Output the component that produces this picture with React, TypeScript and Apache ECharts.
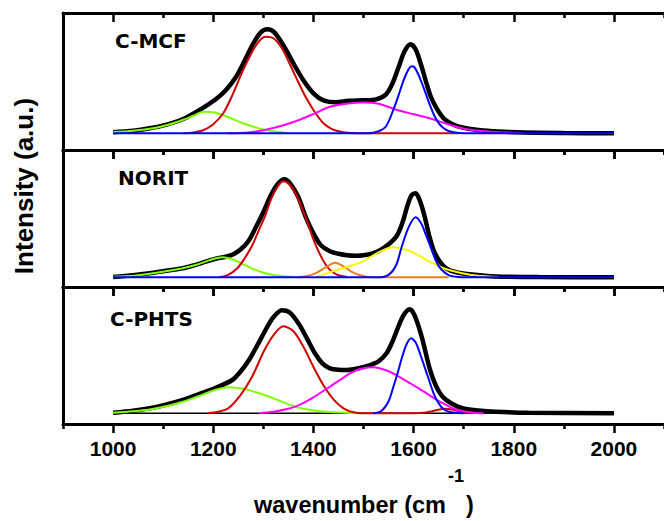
import React, { useEffect, useRef } from 'react';
import * as echarts from 'echarts';

const FONT = '"Liberation Sans", Arial, Helvetica, sans-serif';
const LABEL_FONT = '"DejaVu Sans", "Liberation Sans", Arial, sans-serif';

const majorTicks = [1000, 1200, 1400, 1600, 1800, 2000];
const panelNames = ['C-MCF', 'NORIT', 'C-PHTS'];
const xTitle = 'wavenumber (cm';
const xTitleSup = '-1';
const xTitleEnd = ')';
const yTitle = 'Intensity (a.u.)';

// ---- C-MCF (top panel) ----
const cmcfSpectrum: [number, number][] = [
  [1000, 1], [1040, 2.5], [1073, 5], [1105, 8.5], [1139, 14], [1172, 23], [1205, 34], [1225, 43],
  [1245, 56], [1262, 72], [1280, 90], [1295, 101], [1308, 104], [1322, 101], [1340, 88], [1360, 70],
  [1380, 53], [1400, 40], [1420, 33], [1445, 31], [1470, 32.5], [1500, 33], [1525, 34], [1545, 39],
  [1558, 50], [1570, 66], [1582, 82], [1594, 89], [1604, 84], [1614, 70], [1624, 53], [1634, 37],
  [1646, 25], [1660, 15], [1680, 8.5], [1700, 5.5], [1730, 3.3], [1770, 1.8], [1820, 0.8], [1900, 0.3], [2000, 0],
];
const cmcfGreen: [number, number][] = [
  [1000, 1.2], [1040, 2.6], [1080, 5], [1110, 8.5], [1140, 13.5], [1160, 17.5], [1180, 21.5], [1200, 21],
  [1220, 18], [1240, 14], [1260, 10], [1280, 6.5], [1300, 3.8], [1320, 2], [1340, 0.8], [1350, 0.4],
];
const cmcfRed: [number, number][] = [
  [1140, 0], [1160, 0.8], [1180, 3], [1200, 9], [1220, 20], [1238, 38], [1255, 58], [1271, 75], [1288, 90],
  [1304, 96.6], [1320, 95], [1337, 85], [1354, 68], [1370, 51], [1386, 35], [1403, 21], [1420, 10],
  [1436, 4.5], [1455, 1.5], [1475, 0.3], [1500, 0], [1690, 0],
];
const cmcfMagenta: [number, number][] = [
  [1230, 0], [1270, 0.8], [1300, 3], [1337, 7.5], [1370, 13], [1403, 20], [1433, 26.5], [1465, 29.5],
  [1500, 30.7], [1530, 29.5], [1566, 23.5], [1600, 19], [1632, 15], [1660, 10.5], [1697, 5], [1730, 2.5],
  [1764, 1.3], [1816, 0.3],
];
const cmcfBlue: [number, number][] = [
  [1000, 0], [1510, 0], [1530, 2], [1545, 7], [1560, 24], [1570, 38], [1580, 53], [1590, 64], [1596, 67],
  [1602, 66], [1612, 56], [1622, 43], [1632, 29], [1642, 17], [1652, 9], [1665, 3.5], [1680, 1], [1700, 0], [2000, 0],
];

// ---- NORIT (middle panel) ----
const noritSpectrum: [number, number][] = [
  [1000, 0.3], [1040, 2], [1073, 4], [1105, 6.5], [1139, 9], [1165, 12.5], [1185, 15.6], [1205, 18.5],
  [1225, 20.6], [1240, 23], [1255, 28], [1270, 36], [1285, 50], [1300, 65], [1315, 82], [1330, 94],
  [1342, 98], [1355, 93], [1370, 80], [1385, 60], [1400, 44], [1415, 32], [1433, 26], [1450, 23.5],
  [1467, 22], [1485, 21.5], [1500, 22], [1518, 24], [1533, 27], [1550, 33], [1566, 41], [1578, 55],
  [1588, 72], [1596, 82], [1604, 84], [1613, 76], [1622, 61], [1631, 42], [1640, 27], [1652, 16],
  [1665, 9], [1685, 5], [1711, 3], [1764, 0.8], [1850, 0.3], [2000, 0],
];
const noritGreen: [number, number][] = [
  [1000, 0.5], [1040, 1.5], [1073, 3.5], [1105, 6], [1139, 9], [1170, 13], [1195, 17.5], [1218, 20],
  [1238, 18], [1258, 13.5], [1277, 9], [1297, 5], [1317, 2.5], [1340, 1], [1360, 0.4], [1380, 0],
];
const noritRed: [number, number][] = [
  [1212, 0], [1230, 2.5], [1248, 9], [1264, 20], [1277, 31], [1291, 47], [1304, 62], [1317, 80],
  [1330, 92], [1340, 96], [1352, 93], [1364, 84], [1375, 72], [1388, 55], [1400, 38], [1412, 24],
  [1424, 13], [1436, 6], [1450, 2], [1467, 0.3],
];
const noritOrange: [number, number][] = [
  [1370, 0], [1390, 1.5], [1408, 5], [1425, 10], [1443, 14.5], [1460, 11], [1475, 6], [1490, 2.5],
  [1506, 0.6], [1525, 0], [1670, 0],
];
const noritYellow: [number, number][] = [
  [1405, 0], [1420, 2.5], [1433, 5], [1465, 10], [1499, 16], [1530, 25], [1559, 30], [1585, 27.5],
  [1610, 22], [1632, 15.6], [1660, 9], [1697, 4], [1730, 1.5], [1770, 0.3],
];
const noritBlue: [number, number][] = [
  [1000, 0], [1530, 0], [1550, 2.5], [1565, 12], [1576, 30], [1590, 50], [1604, 60], [1615, 54],
  [1625, 42], [1635, 29], [1645, 16], [1655, 8], [1671, 2], [1690, 0.3], [1710, 0], [2000, 0],
];

// ---- C-PHTS (bottom panel) ----
const cphtsSpectrum: [number, number][] = [
  [1000, 0.5], [1040, 2.5], [1073, 5], [1105, 8.5], [1139, 13.3], [1170, 19], [1205, 25.6], [1238, 33.3],
  [1255, 42], [1271, 53], [1288, 68], [1304, 83], [1320, 96], [1337, 103], [1352, 101], [1370, 90],
  [1387, 75], [1403, 60], [1418, 50], [1433, 45], [1450, 43.5], [1467, 43.3], [1490, 45], [1513, 48.3],
  [1530, 52], [1546, 60], [1558, 72], [1569, 86], [1580, 98], [1592, 104], [1602, 98], [1616, 77],
  [1632, 45], [1645, 27], [1658, 16.5], [1675, 10], [1697, 5], [1730, 2.8], [1764, 1.6], [1830, 0.5], [2000, 0],
];
const cphtsGreen: [number, number][] = [
  [1000, 0.5], [1040, 2], [1073, 3.8], [1110, 7.5], [1139, 11.5], [1170, 17], [1205, 23.5], [1231, 26],
  [1260, 24.5], [1282, 21.5], [1304, 18], [1330, 13], [1355, 8], [1380, 4.5], [1405, 2.5], [1433, 1.2],
  [1470, 0.4], [1500, 0],
];
const cphtsRed: [number, number][] = [
  [1189, 0], [1210, 1.5], [1230, 5], [1254, 18], [1277, 36], [1301, 62], [1320, 78], [1340, 87],
  [1360, 82], [1380, 66.6], [1403, 43.5], [1420, 28], [1440, 14], [1460, 5], [1480, 1], [1500, 0],
  [1600, 0], [1625, 0.8], [1645, 3], [1662, 4.5], [1680, 3.5], [1700, 1.2], [1720, 0],
];
const cphtsMagenta: [number, number][] = [
  [1291, 0], [1320, 1.5], [1345, 4], [1370, 8], [1400, 16], [1433, 26.7], [1455, 34], [1473, 40],
  [1495, 44.5], [1520, 46], [1545, 43], [1566, 38], [1590, 31], [1610, 25], [1632, 18], [1655, 11],
  [1678, 5], [1700, 2], [1720, 0.5], [1740, 0],
];
const cphtsBlue: [number, number][] = [
  [1519, 0], [1535, 2], [1550, 12], [1560, 27], [1568, 40], [1577, 56], [1586, 69], [1595, 75],
  [1604, 71], [1614, 58], [1628, 37.5], [1640, 20], [1650, 10], [1660, 4], [1675, 1], [1700, 0],
];
const cphtsBaseline: [number, number][] = [[1000, 0], [2000, 0]];

const BLACK = '#000000';
const RED = '#d00000';
const GREEN = '#80ff00';
const BLUE = '#0000ff';
const MAGENTA = '#ff00ff';
const YELLOW = '#f8f800';
const ORANGE = '#e8801a';

export default function App() {
  const ref = useRef<HTMLDivElement>(null);

  useEffect(() => {
    if (!ref.current) return;
    const chart = echarts.init(ref.current, undefined, { renderer: 'svg' });

    const grids = [
      { left: 63, top: 13, width: 605, height: 137 },
      { left: 63, top: 150, width: 605, height: 137 },
      { left: 63, top: 287, width: 605, height: 137 },
    ];
    const yRanges = [
      [-16.7, 120.3],
      [-9.7, 127.3],
      [-10.7, 126.3],
    ];

    const xAxes: any[] = [];
    const yAxes: any[] = [];
    grids.forEach((_, gi) => {
      ['bottom', 'top'].forEach((pos) => {
        xAxes.push({
          type: 'value',
          gridIndex: gi,
          position: pos,
          min: 900,
          max: 2100,
          interval: 200,
          axisLine: { show: true, onZero: false, lineStyle: { color: '#000', width: 3 } },
          axisTick: { show: true, inside: pos === 'top', length: 5, lineStyle: { color: '#000', width: 2.5 } },
          minorTick: { show: true, splitNumber: 2, length: 9, lineStyle: { color: '#000', width: 2.5 } },
          axisLabel: {
            show: pos === 'bottom' && gi === 2,
            customValues: majorTicks,
            formatter: (v: number) => String(v),
            margin: 14,
            color: '#000',
            fontSize: 21,
            fontWeight: 'bold',
            fontFamily: FONT,
          },
          splitLine: { show: false },
          minorSplitLine: { show: false },
        });
      });
      yAxes.push({
        type: 'value',
        gridIndex: gi,
        position: 'left',
        min: yRanges[gi][0],
        max: yRanges[gi][1],
        axisLine: { show: true, onZero: false, lineStyle: { color: '#000', width: 3 } },
        axisTick: { show: false },
        axisLabel: { show: false },
        splitLine: { show: false },
      });
    });

    const line = (data: [number, number][], color: string, width: number, gi: number, z: number) => ({
      type: 'line',
      xAxisIndex: gi * 2,
      yAxisIndex: gi,
      data,
      smooth: 0.3,
      symbol: 'none',
      showSymbol: false,
      silent: true,
      z,
      lineStyle: { color, width },
    });

    const series = [
      line(cmcfSpectrum, BLACK, 4.5, 0, 2),
      line(cmcfGreen, GREEN, 2, 0, 3),
      line(cmcfRed, RED, 2, 0, 3),
      line(cmcfMagenta, MAGENTA, 2, 0, 3),
      line(cmcfBlue, BLUE, 2, 0, 4),

      line(noritSpectrum, BLACK, 4.5, 1, 2),
      line(noritGreen, GREEN, 2, 1, 3),
      line(noritRed, RED, 2, 1, 3),
      line(noritOrange, ORANGE, 2, 1, 3),
      line(noritYellow, YELLOW, 2, 1, 3),
      line(noritBlue, BLUE, 2, 1, 4),

      line(cphtsSpectrum, BLACK, 4.5, 2, 2),
      line(cphtsBaseline, BLACK, 1.5, 2, 3),
      line(cphtsGreen, GREEN, 2, 2, 3),
      line(cphtsRed, RED, 2, 2, 3),
      line(cphtsMagenta, MAGENTA, 2, 2, 3),
      line(cphtsBlue, BLUE, 2, 2, 4),
    ];

    const labelPos = [
      [115, 40.5],
      [118, 177.5],
      [110, 318.5],
    ];

    const txt = (text: string, x: number, y: number, size: number, align: string, family = FONT) => ({
      type: 'text',
      x,
      y,
      z: 10,
      style: {
        text,
        fill: '#000',
        fontSize: size,
        fontWeight: 'bold',
        fontFamily: family,
        align,
        verticalAlign: 'middle',
      },
    });

    const graphic: any[] = panelNames.map((name, i) =>
      txt(name, labelPos[i][0], labelPos[i][1], 20, 'left', LABEL_FONT)
    );
    graphic.push({ ...txt(yTitle, 24, 186, 26, 'center'), rotation: Math.PI / 2 });
    graphic.push(txt(xTitle, 446, 505, 23.5, 'right'));
    graphic.push(txt(xTitleSup, 448, 476, 18, 'left'));
    graphic.push(txt(xTitleEnd, 466, 505, 23.5, 'left'));

    chart.setOption({
      animation: false,
      backgroundColor: '#fff',
      grid: grids.map((g) => ({ ...g, containLabel: false })),
      xAxis: xAxes,
      yAxis: yAxes,
      series,
      graphic,
    });

    return () => chart.dispose();
  }, []);

  return (
    <div
      ref={ref}
      style={{ position: 'absolute', left: 0, top: 0, width: 664, height: 521, overflow: 'hidden' }}
    />
  );
}
